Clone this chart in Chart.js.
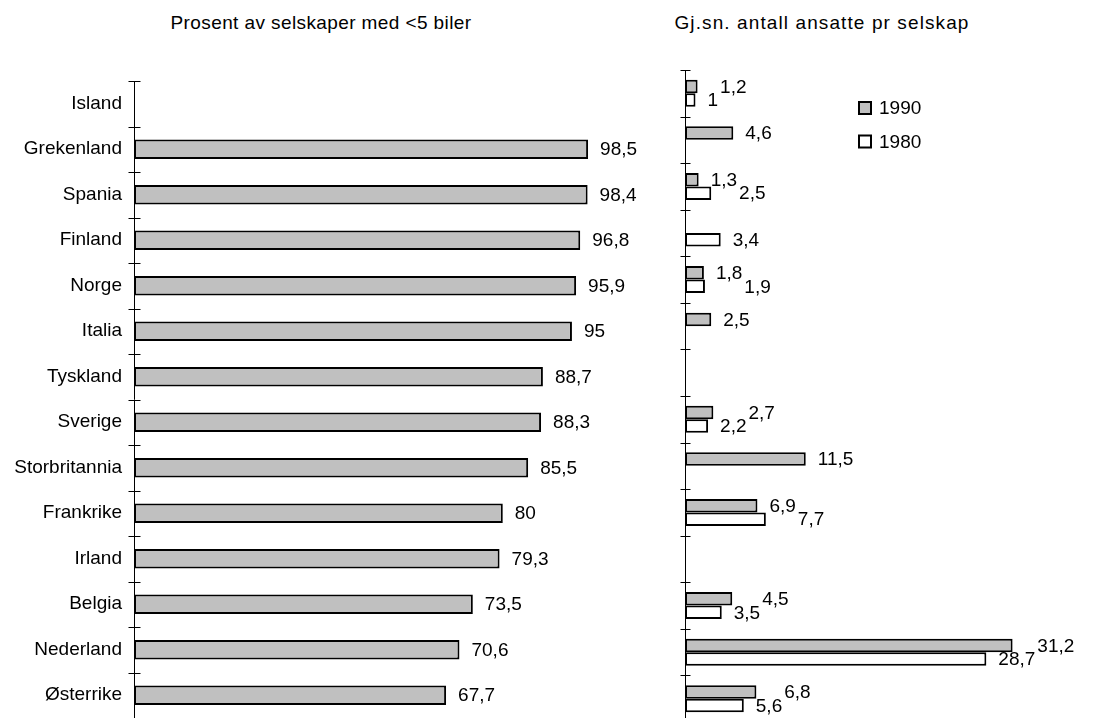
<!DOCTYPE html>
<html>
<head>
<meta charset="utf-8">
<script src="https://cdn.jsdelivr.net/npm/chart.js@4/dist/chart.umd.min.js"></script>
<style>
  html, body { margin: 0; padding: 0; background: #fff; overflow: hidden; width: 1101px; height: 718px; }
  #left  { position: absolute; left: 0;     top: 0; width: 660px; height: 718px; }
  #right { position: absolute; left: 660px; top: 0; width: 441px; height: 722px; }
  .title {
    position: absolute; top: 12px; line-height: 19px;
    font: 19px "Liberation Sans", Arial, sans-serif; color: #000;
    white-space: nowrap; transform: translateX(-50%); letter-spacing: 0.4px;
  }
  .title.wide { letter-spacing: 1.1px; }
</style>
</head>
<body>
<div class="title" style="left:321px">Prosent av selskaper med &lt;5 biler</div>
<div class="title wide" style="left:822px">Gj.sn. antall ansatte pr selskap</div>
<div id="left"><canvas id="share"></canvas></div>
<div id="right"><canvas id="staff"></canvas></div>

<script>
// Countries, top to bottom
const countries = ['Island', 'Grekenland', 'Spania', 'Finland', 'Norge', 'Italia', 'Tyskland',
  'Sverige', 'Storbritannia', 'Frankrike', 'Irland', 'Belgia', 'Nederland', 'Østerrike'];

// Share of companies with fewer than 5 cars (%)
const shareUnder5 = [null, 98.5, 98.4, 96.8, 95.9, 95, 88.7, 88.3, 85.5, 80, 79.3, 73.5, 70.6, 67.7];

// Average number of employees per company
const staff1990 = [1.2, 4.6, 1.3, null, 1.8, 2.5, null, 2.7, 11.5, 6.9, null, 4.5, 31.2, 6.8];
const staff1980 = [1.0, null, 2.5, 3.4, 1.9, null, null, 2.2, null, 7.7, null, 3.5, 28.7, 5.6];

const seriesNames = ['1990', '1980'];

const FONT = '"Liberation Sans", Arial, sans-serif';
const FONT_SIZE = 19;
const GREY = '#c0c0c0';

Chart.defaults.font.family = FONT;
Chart.defaults.font.size = FONT_SIZE;
Chart.defaults.color = '#000';

const fmt = v => String(v).replace('.', ',');

// Vertical axis line with tick marks crossing it at every category boundary
const crossAxis = {
  id: 'crossAxis',
  afterDatasetsDraw(chart, args, opts) {
    const { ctx, chartArea: a } = chart;
    const n = chart.data.labels.length;
    const x = Math.round(a.left) + 0.5;
    ctx.save();
    ctx.strokeStyle = '#000';
    ctx.lineWidth = 1;
    ctx.beginPath();
    ctx.moveTo(x, a.top);
    ctx.lineTo(x, a.bottom);
    for (let i = 0; i <= n; i++) {
      const y = Math.round(a.top + (a.bottom - a.top) * i / n) + 0.5;
      ctx.moveTo(x - opts.len, y);
      ctx.lineTo(x + opts.len, y);
    }
    ctx.stroke();
    ctx.restore();
  }
};

// Value labels just past the end of each bar
const endLabels = {
  id: 'endLabels',
  afterDatasetsDraw(chart) {
    const { ctx } = chart;
    ctx.save();
    ctx.font = FONT_SIZE + 'px ' + FONT;
    ctx.fillStyle = '#000';
    ctx.textBaseline = 'middle';
    ctx.textAlign = 'left';
    const gap = 12;
    const nCat = chart.data.labels.length;
    const nSets = chart.data.datasets.length;
    for (let i = 0; i < nCat; i++) {
      // collect labels of this category
      const items = [];
      for (let d = 0; d < nSets; d++) {
        const v = chart.data.datasets[d].data[i];
        if (v === null || v === undefined) continue;
        const el = chart.getDatasetMeta(d).data[i];
        const text = fmt(v);
        items.push({ text, end: el.x, y: el.y, x: el.x + gap, w: ctx.measureText(text).width });
      }
      // when two labels crowd each other, the one on the longer bar moves right
      if (items.length === 2) {
        const [a, b] = items;
        const shortIt = a.end <= b.end ? a : b;
        const longIt = shortIt === a ? b : a;
        if (longIt.x < shortIt.x + shortIt.w + 2) longIt.x = shortIt.x + shortIt.w + 2;
      }
      items.forEach(it => ctx.fillText(it.text, it.x, it.y + 1));
    }
    ctx.restore();
  }
};

// Series key drawn beside the chart
const seriesKey = {
  id: 'seriesKey',
  afterDraw(chart, args, opts) {
    const { ctx, chartArea: a } = chart;
    ctx.save();
    ctx.font = FONT_SIZE + 'px ' + FONT;
    ctx.textBaseline = 'middle';
    ctx.textAlign = 'left';
    chart.data.datasets.forEach((ds, k) => {
      const x = a.left + opts.dx;
      const y = a.top + opts.dy + k * opts.step;
      ctx.fillStyle = ds.backgroundColor;
      ctx.fillRect(x, y, 12, 12);
      ctx.strokeStyle = '#000';
      ctx.lineWidth = 2;
      ctx.strokeRect(x, y, 12, 12);
      ctx.fillStyle = '#000';
      ctx.fillText(ds.label, x + 20, y + 7);
    });
    ctx.restore();
  }
};

function fitAxis(width) {
  return s => { s.width = width; s.paddingTop = 0; s.paddingBottom = 0; };
}

new Chart(document.getElementById('share'), {
  type: 'bar',
  data: {
    labels: countries,
    datasets: [{
      data: shareUnder5,
      backgroundColor: GREY,
      borderColor: '#000',
      borderWidth: 2,
      borderSkipped: false,
      barPercentage: 0.43,
      categoryPercentage: 1
    }]
  },
  options: {
    indexAxis: 'y',
    responsive: true,
    maintainAspectRatio: false,
    animation: false,
    events: [],
    layout: { padding: { top: 81, right: 65, bottom: 0, left: 0 } },
    plugins: { legend: { display: false }, tooltip: { enabled: false }, crossAxis: { len: 6 } },
    scales: {
      x: { display: false, min: 0, max: 100 },
      y: {
        grid: { display: false, drawTicks: false },
        border: { display: false },
        ticks: { color: '#000', padding: 12, font: { size: FONT_SIZE } },
        afterFit: fitAxis(134)
      }
    }
  },
  plugins: [crossAxis, endLabels]
});

new Chart(document.getElementById('staff'), {
  type: 'bar',
  data: {
    labels: countries,
    datasets: [
      { label: seriesNames[0], data: staff1990, backgroundColor: GREY },
      { label: seriesNames[1], data: staff1980, backgroundColor: '#ffffff' }
    ].map(ds => Object.assign(ds, {
      borderColor: '#000', borderWidth: 2, borderSkipped: false,
      barPercentage: 1, categoryPercentage: 0.58
    }))
  },
  options: {
    indexAxis: 'y',
    responsive: true,
    maintainAspectRatio: false,
    animation: false,
    events: [],
    layout: { padding: { top: 70, right: 48.5, bottom: 0, left: 0 } },
    plugins: {
      legend: { display: false }, tooltip: { enabled: false },
      crossAxis: { len: 5 },
      seriesKey: { dx: 174, dy: 32, step: 33.5 }
    },
    scales: {
      x: { display: false, min: 0, max: 35 },
      y: {
        grid: { display: false, drawTicks: false },
        border: { display: false },
        ticks: { display: false },
        afterFit: fitAxis(25)
      }
    }
  },
  plugins: [crossAxis, endLabels, seriesKey]
});
</script>
</body>
</html>
